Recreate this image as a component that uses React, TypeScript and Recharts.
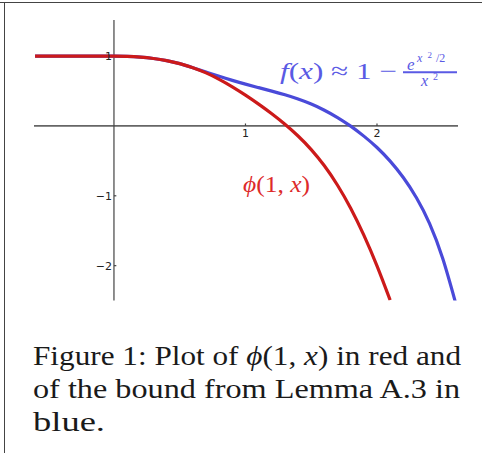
import React from "react";
import { LineChart, Line, XAxis, YAxis, ReferenceLine } from "recharts";

// phi(1, x) — red curve
const redX = [-0.6, -0.5, -0.4, -0.3, -0.2, -0.1, 0, 0.1, 0.2, 0.3, 0.4, 0.5, 0.6, 0.7, 0.8, 0.9, 1.0, 1.1, 1.2, 1.3, 1.4, 1.5, 1.6, 1.7, 1.8, 1.9, 2.0, 2.1];
const redY = [1, 1, 1, 1, 1, 1, 1, 0.996, 0.985, 0.965, 0.935, 0.892, 0.834, 0.759, 0.667, 0.56, 0.441, 0.312, 0.174, 0.024, -0.144, -0.339, -0.571, -0.849, -1.179, -1.564, -2.004, -2.494];

// f(x) bound from Lemma A.3 — blue curve
const blueX = [-0.6, -0.5, -0.4, -0.3, -0.2, -0.1, 0, 0.1, 0.2, 0.3, 0.4, 0.5, 0.6, 0.7, 0.8, 0.9, 1.0, 1.1, 1.2, 1.3, 1.4, 1.5, 1.6, 1.7, 1.8, 1.9, 2.0, 2.1, 2.2, 2.3, 2.4, 2.5, 2.6];
const blueY = [1, 1, 1, 1, 1, 1, 1, 0.996, 0.985, 0.965, 0.935, 0.892, 0.834, 0.772, 0.71, 0.652, 0.598, 0.548, 0.498, 0.445, 0.385, 0.313, 0.225, 0.12, -0.003, -0.146, -0.309, -0.504, -0.739, -1.029, -1.399, -1.899, -2.549];

const xTicks = [1, 2];
const yTicks = [1, -1, -2];
const xTickLabels = ["1", "2"];
const yTickLabels = ["1", "\u22121", "\u22122"];

const redData = redX.map((x, i) => ({ x, y: redY[i] }));
const blueData = blueX.map((x, i) => ({ x, y: blueY[i] }));

const BLUE = "#4a4ad9";
const RED = "#cc1a1a";

const tickFont = { fontFamily: "DejaVu Sans", fontSize: 11, fill: "#222" };
const PHI = "\u03D5";

export default function App() {
  return (
    <div style={{ position: "absolute", left: 0, top: 0, width: 482, height: 453, background: "#fff" }}>
      <div style={{ position: "absolute", left: 0, top: 0 }}>
        <LineChart
          width={482}
          height={310}
          margin={{ top: 20, left: 34, right: 24, bottom: 9.4 }}
        >
          <XAxis type="number" dataKey="x" domain={[-0.608, 2.616]} hide allowDataOverflow />
          <YAxis type="number" dataKey="y" domain={[-2.5, 1.516]} hide allowDataOverflow />
          <ReferenceLine y={0} stroke="#666" strokeWidth={1.6} />
          <ReferenceLine x={0} stroke="#444" strokeWidth={1.2} />
          {xTicks.map((t, i) => (
            <ReferenceLine
              key={"xt" + t}
              segment={[{ x: t, y: 0 }, { x: t, y: 0.035 }]}
              stroke="#444"
              strokeWidth={1.2}
              label={{ value: xTickLabels[i], position: "bottom", offset: 3, ...tickFont }}
            />
          ))}
          {yTicks.map((t, i) => (
            <ReferenceLine
              key={"yt" + t}
              segment={[{ x: 0, y: t }, { x: 0.018, y: t }]}
              stroke="#444"
              strokeWidth={1.2}
              label={{ value: yTickLabels[i], position: "left", offset: 2, ...tickFont }}
            />
          ))}
          <Line
            data={blueData}
            dataKey="y"
            type="natural"
            stroke={BLUE}
            strokeWidth={3.2}
            dot={false}
            isAnimationActive={false}
          />
          <Line
            data={redData}
            dataKey="y"
            type="natural"
            stroke={RED}
            strokeWidth={3.2}
            dot={false}
            isAnimationActive={false}
          />
        </LineChart>
      </div>
      <svg
        width={482}
        height={453}
        style={{ position: "absolute", left: 0, top: 0, pointerEvents: "none" }}
      >
        <line x1={0} y1={2.5} x2={482} y2={2.5} stroke="#444" strokeWidth={1} />
        <line x1={4.5} y1={2} x2={4.5} y2={453} stroke="#444" strokeWidth={1} />

        {/* blue annotation */}
        <g fill="#5a5ae4" fontFamily="Liberation Serif">
          <text x={280} y={79} fontSize={24} textLength={117} lengthAdjust="spacingAndGlyphs">
            <tspan fontStyle="italic">f</tspan>
            <tspan>(</tspan>
            <tspan fontStyle="italic">x</tspan>
            <tspan>) ≈ 1 − </tspan>
          </text>
          <text x={407} y={70} fontSize={17} fontStyle="italic">e</text>
          <text x={417} y={62} fontSize={12} fontStyle="italic">x</text>
          <text x={427.5} y={57.5} fontSize={9}>2</text>
          <text x={436} y={62} fontSize={12}>/2</text>
          <line x1={403} y1={72.3} x2={457} y2={72.3} stroke="#5a5ae4" strokeWidth={2} />
          <text x={421} y={86} fontSize={16} fontStyle="italic">x</text>
          <text x={433} y={80} fontSize={10}>2</text>
        </g>

        {/* red annotation */}
        <text x={243} y={191.5} fontSize={23} fill="#dd2a2a" fontFamily="Liberation Serif" textLength={67} lengthAdjust="spacingAndGlyphs">
          <tspan fontStyle="italic">{PHI}</tspan>
          <tspan>(1, </tspan>
          <tspan fontStyle="italic">x</tspan>
          <tspan>)</tspan>
        </text>

        {/* caption */}
        <g fill="#1a1a1a" fontFamily="Liberation Serif" fontSize={27.5}>
          <text x={33} y={364.5} textLength={428} lengthAdjust="spacingAndGlyphs">
            <tspan>Figure 1: Plot of </tspan>
            <tspan fontStyle="italic">{PHI}</tspan>
            <tspan>(1, </tspan>
            <tspan fontStyle="italic">x</tspan>
            <tspan>) in red and</tspan>
          </text>
          <text x={33} y={397.5} textLength={427} lengthAdjust="spacingAndGlyphs">
            of the bound from Lemma A.3 in
          </text>
          <text x={33} y={430.5} textLength={72} lengthAdjust="spacingAndGlyphs">
            blue.
          </text>
        </g>
      </svg>
    </div>
  );
}
